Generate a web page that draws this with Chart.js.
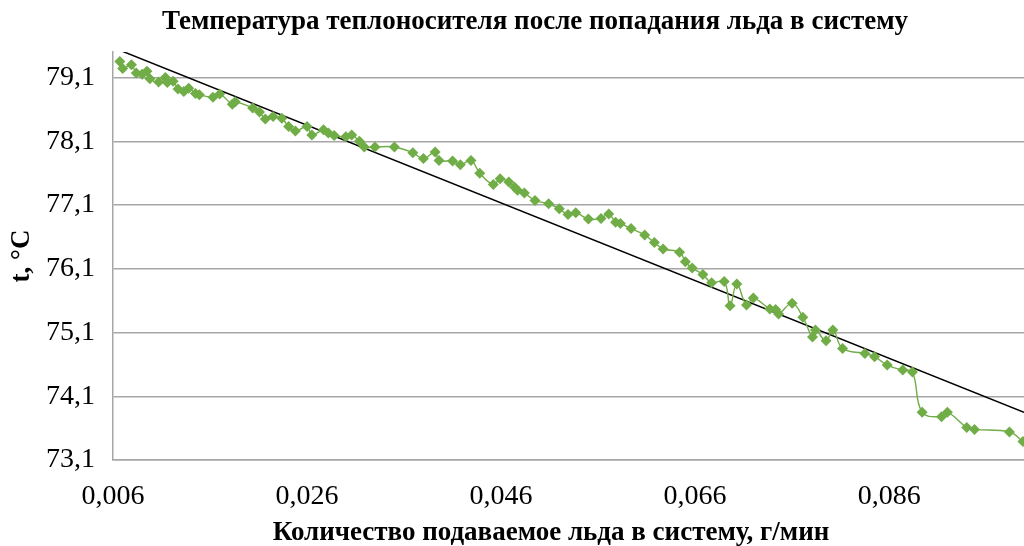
<!DOCTYPE html>
<html>
<head>
<meta charset="utf-8">
<script src="https://cdn.jsdelivr.net/npm/chart.js@4"></script>
<style>
  html, body { margin: 0; padding: 0; background: #fff; }
  #wrap { width: 1024px; height: 546px; }
</style>
</head>
<body>
<div id="wrap"><canvas id="chart"></canvas></div>
<script>
// ice feed, g/min
const iceFeed = [
  0.0067, 0.0070, 0.0079, 0.0084, 0.0090, 0.0095, 0.0098, 0.0107, 0.0114, 0.0116,
  0.0122, 0.0127, 0.0133, 0.0138, 0.0145, 0.0149, 0.0163, 0.0170, 0.0183, 0.0186,
  0.0204, 0.0211, 0.0217, 0.0225, 0.0234, 0.0241, 0.0248, 0.0260, 0.0265, 0.0277,
  0.0282, 0.0288, 0.0300, 0.0306, 0.0314, 0.0319, 0.0330, 0.0350, 0.0369, 0.0380,
  0.0392, 0.0396, 0.0410, 0.0418, 0.0429, 0.0438, 0.0452, 0.0459, 0.0468, 0.0474,
  0.0477, 0.0484, 0.0495, 0.0509, 0.0520, 0.0529, 0.0537, 0.0550, 0.0563, 0.0571,
  0.0578, 0.0583, 0.0594, 0.0608, 0.0618, 0.0627, 0.0644, 0.0650, 0.0657, 0.0668,
  0.0677, 0.0690, 0.0696, 0.0703, 0.0713, 0.0720, 0.0737, 0.0743, 0.0746, 0.0760,
  0.0771, 0.0781, 0.0784, 0.0795, 0.0802, 0.0812, 0.0835, 0.0845, 0.0858, 0.0874,
  0.0884, 0.0894, 0.0914, 0.0920, 0.0940, 0.0948, 0.0984, 0.0998
];
// coolant temperature, °C
const temperature = [
  79.35, 79.24, 79.30, 79.17, 79.15, 79.20, 79.08, 79.03, 79.10, 79.02,
  79.04, 78.92, 78.88, 78.93, 78.85, 78.83, 78.79, 78.84, 78.68, 78.72,
  78.62, 78.56, 78.45, 78.49, 78.46, 78.33, 78.26, 78.33, 78.20, 78.28,
  78.23, 78.19, 78.17, 78.20, 78.10, 78.01, 78.01, 78.01, 77.92, 77.83,
  77.93, 77.80, 77.79, 77.73, 77.80, 77.60, 77.42, 77.51, 77.46, 77.38,
  77.33, 77.29, 77.17, 77.12, 77.04, 76.95, 76.98, 76.88, 76.89, 76.96,
  76.83, 76.81, 76.73, 76.63, 76.51, 76.41, 76.36, 76.21, 76.11, 76.01,
  75.88, 75.90, 75.52, 75.86, 75.53, 75.64, 75.47, 75.46, 75.39, 75.56,
  75.34, 75.03, 75.14, 74.97, 75.14, 74.85, 74.77, 74.72, 74.59, 74.51,
  74.48, 73.85, 73.78, 73.85, 73.61, 73.58, 73.54, 73.39
];
// linear trend line ends
const trendX = [0.006, 0.0999];
const trendY = [79.57, 73.85];

const xTicks = [0.006, 0.026, 0.046, 0.066, 0.086];
const yTicks = [73.1, 74.1, 75.1, 76.1, 77.1, 78.1, 79.1];

const chartTitle = 'Температура теплоносителя после попадания льда в систему';
const xTitle = 'Количество подаваемое льда в систему, г/мин';

const serif = "'Liberation Serif', 'Times New Roman', serif";
const gridGray = '#a6a6a6';
const comma = (v, d) => v.toFixed(d).replace('.', ',');

// the titles sit off the chart-area centre in the original, so draw them by hand
const captions = {
  id: 'captions',
  afterDraw(chart) {
    const ctx = chart.ctx;
    ctx.save();
    ctx.fillStyle = '#000';
    ctx.textAlign = 'center';
    ctx.textBaseline = 'middle';
    ctx.font = 'bold 27px ' + serif;
    ctx.fillText(chartTitle, 535, 22);
    ctx.fillText(xTitle, 551, 533);
    ctx.restore();
  }
};

new Chart(document.getElementById('chart'), {
  type: 'line',
  data: {
    datasets: [
      {
        data: iceFeed.map((x, i) => ({ x, y: temperature[i] })),
        borderColor: '#70ad47',
        backgroundColor: '#70ad47',
        borderWidth: 1.4,
        pointStyle: 'rectRot',
        pointRadius: 5.5,
        pointBorderWidth: 0,
        tension: 0.4
      },
      {
        data: trendX.map((x, i) => ({ x, y: trendY[i] })),
        borderColor: '#000',
        borderWidth: 1.5,
        pointRadius: 0,
        tension: 0
      }
    ]
  },
  plugins: [captions],
  options: {
    responsive: true,
    maintainAspectRatio: false,
    animation: false,
    layout: { autoPadding: false, padding: { top: 52, right: 0, bottom: 0, left: 0 } },
    plugins: {
      legend: { display: false },
      tooltip: { enabled: false },
      title: { display: false }
    },
    scales: {
      x: {
        type: 'linear',
        min: 0.006,
        max: 0.0999,
        afterBuildTicks: scale => { scale.ticks = xTicks.map(value => ({ value })); },
        afterFit: scale => {
          scale.height = 86;
          scale.paddingLeft = 0;
          scale.paddingRight = 0;
        },
        grid: { display: false },
        border: { display: true, color: gridGray, width: 1.5 },
        ticks: {
          color: '#000',
          padding: 12,
          maxRotation: 0,
          autoSkip: false,
          font: { family: serif, size: 28 },
          callback: v => comma(v, 3)
        }
      },
      y: {
        min: 73.1,
        max: 79.5,
        afterBuildTicks: scale => { scale.ticks = yTicks.map(value => ({ value })); },
        afterFit: scale => {
          scale.width = 113;
          scale.paddingTop = 0;
          scale.paddingBottom = 0;
        },
        grid: { color: gridGray, lineWidth: 1.5, drawTicks: false },
        border: { display: true, color: gridGray, width: 1.5 },
        ticks: {
          color: '#000',
          padding: 18,
          autoSkip: false,
          font: { family: serif, size: 28 },
          callback: v => comma(v, 1)
        },
        title: {
          display: true,
          text: 't, °C',
          color: '#000',
          font: { family: serif, size: 27, weight: 'bold' },
          padding: { top: 6, bottom: 0 }
        }
      }
    }
  }
});
</script>
</body>
</html>
